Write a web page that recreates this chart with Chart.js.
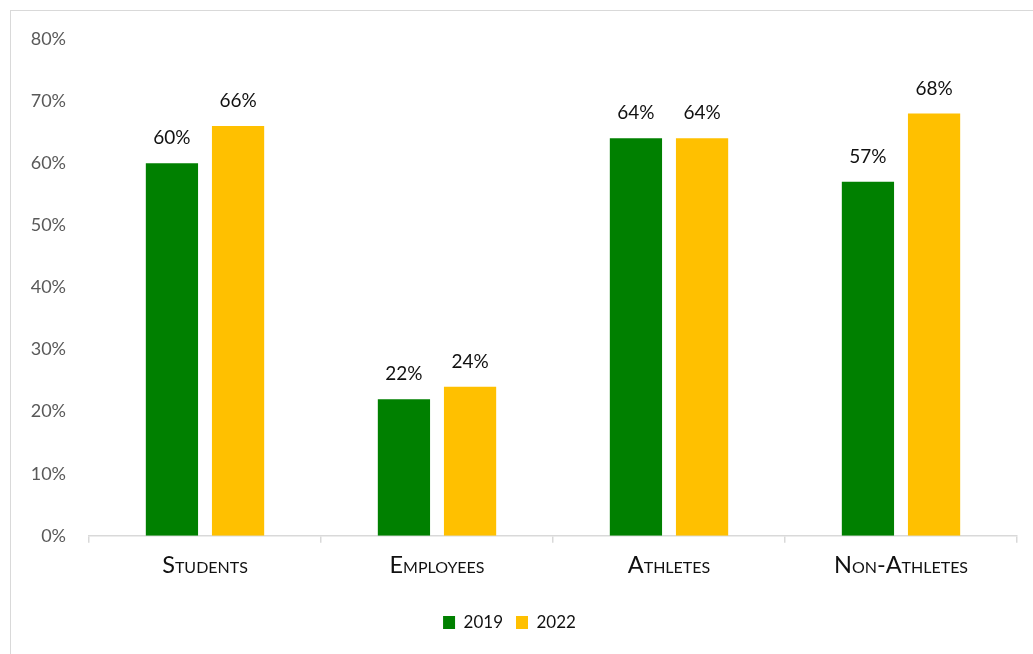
<!DOCTYPE html>
<html>
<head>
<meta charset="utf-8">
<script src="https://cdn.jsdelivr.net/npm/chart.js@4.4.1/dist/chart.umd.min.js"></script>
<style>
  html, body { margin: 0; padding: 0; background: #fff; overflow: hidden; }
  .chart-frame {
    position: absolute;
    left: 10px;
    top: 10px;
    width: 1040px;
    height: 660px;
    border: 1.5px solid #d9d9d9;
    box-sizing: border-box;
  }
  #rateChart { position: absolute; left: 1px; top: 1px; }
</style>
</head>
<body>
<div class="chart-frame">
  <canvas id="rateChart" width="1022" height="643"></canvas>
</div>
<script>
const groups = ["Students", "Employees", "Athletes", "Non-Athletes"];
const seriesNames = ["2019", "2022"];
const values2019 = [60, 22, 64, 57];
const values2022 = [66, 24, 64, 68];
const seriesColors = ["#008000", "#ffc000"];
const yTicks = [0, 10, 20, 30, 40, 50, 60, 70, 80];

const FONT = "Lato, 'Open Sans', sans-serif";

// Percent labels printed above each bar.
const barValueLabels = {
  id: "barValueLabels",
  afterDatasetsDraw(chart) {
    const ctx = chart.ctx;
    ctx.save();
    ctx.font = "19px " + FONT;
    ctx.fillStyle = "#111";
    ctx.textAlign = "center";
    ctx.textBaseline = "middle";
    chart.data.datasets.forEach((dataset, i) => {
      chart.getDatasetMeta(i).data.forEach((bar, j) => {
        ctx.fillText(dataset.data[j] + "%", bar.x, bar.y - 25);
      });
    });
    ctx.restore();
  }
};

// Nudge the legend a little left of the canvas centre.
const legendShift = {
  id: "legendShift",
  afterLayout(chart) {
    chart.legend.left -= 7;
    chart.legend.right -= 7;
  }
};

new Chart(document.getElementById("rateChart"), {
  type: "bar",
  data: {
    labels: groups,
    datasets: [
      { label: seriesNames[0], data: values2019, backgroundColor: seriesColors[0] },
      { label: seriesNames[1], data: values2022, backgroundColor: seriesColors[1] }
    ]
  },
  options: {
    responsive: false,
    animation: false,
    categoryPercentage: 0.57,
    barPercentage: 0.79,
    layout: { padding: { left: 4, right: 17, top: 27, bottom: 14 } },
    plugins: {
      tooltip: { enabled: false },
      legend: {
        position: "bottom",
        labels: {
          boxWidth: 12,
          boxHeight: 13,
          padding: 13,
          color: "#111",
          font: { family: FONT, size: 17 }
        }
      }
    },
    scales: {
      x: {
        afterFit(scale) {
          scale.height += 12;
        },
        grid: {
          offset: true,
          drawOnChartArea: false,
          drawTicks: true,
          tickLength: 7,
          color: "#d9d9d9",
          lineWidth: 1.5
        },
        border: { display: true, color: "#d9d9d9", width: 1.5 },
        ticks: {
          padding: 9,
          color: "#111",
          font: { family: FONT, size: 23.5, weight: "small-caps" }
        }
      },
      y: {
        min: 0,
        max: 80,
        afterBuildTicks(scale) {
          scale.ticks = yTicks.map((v) => ({ value: v }));
        },
        afterFit(scale) {
          scale.width = 73;
        },
        // hidden tick marks keep the labels clear of the bars
        grid: { display: false, drawTicks: true, tickLength: 23 },
        border: { display: false },
        ticks: {
          padding: 0,
          color: "#595959",
          font: { family: FONT, size: 18 },
          callback: (v) => v + "%"
        }
      }
    }
  },
  plugins: [barValueLabels, legendShift]
});
</script>
</body>
</html>
